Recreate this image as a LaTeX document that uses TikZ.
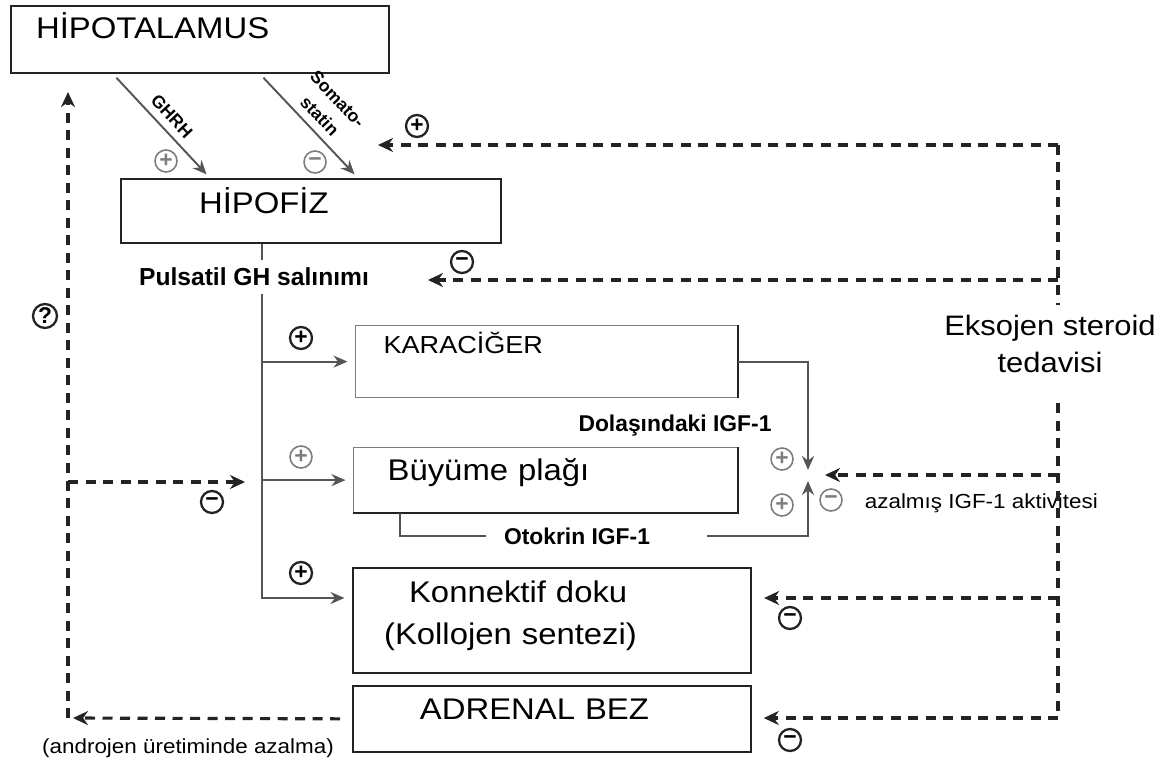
\documentclass[tikz,border=0pt]{standalone}
\usepackage{fontspec}
\setmainfont{Liberation Sans}[FakeStretch=1.1]
\newfontfamily\boldsf{Liberation Sans}
\usepackage{tikz}
\usetikzlibrary{arrows.meta, positioning}
\definecolor{ink}{RGB}{35,35,35}
\definecolor{wire}{RGB}{85,85,85}
\definecolor{soft}{RGB}{125,125,125}

\begin{document}
\begin{tikzpicture}[x=0.2mm, y=-0.2mm,
  box/.style={draw=ink, line width=1pt, inner sep=0pt, anchor=north west, align=left},
  bld/.style={font=\boldsf\bfseries\fontsize{13}{15}\selectfont, inner sep=0.5mm},
  lbl/.style={font=\boldsf\bfseries\fontsize{10}{14}\selectfont, inner sep=0.5mm},
  sm/.style={font=\fontsize{11.6}{14}\selectfont, inner sep=0.5mm},
  sg/.style={circle, draw=ink, line width=1.3pt, minimum size=4.4mm, inner sep=0pt,
             font=\boldsf\bfseries\fontsize{13}{13}\selectfont},
  sgg/.style={sg, draw=soft, text=soft, line width=0.9pt},
  gl/.style={draw=wire, line width=1.1pt, -{Stealth[length=2.8mm, width=2.4mm]}},
  dsh/.style={draw=ink, line width=1.8pt, dash pattern=on 2mm off 1.5mm,
              -{Stealth[length=3mm, width=2.8mm]}},
  dln/.style={draw=ink, line width=1.8pt, dash pattern=on 2mm off 1.5mm}]
  \useasboundingbox (0,0) rectangle (1164,765);

  % boxes
  \node[box, line width=1.2pt, text width=75.6mm, text height=6.4mm, text depth=7mm,
        font=\fontsize{17}{20}\selectfont] (hipo) at (10,5) {\hspace*{5mm}HİPOTALAMUS};
  \node[box, line width=1.2pt, text width=76mm, text height=6.8mm, text depth=6mm,
        font=\fontsize{17}{20}\selectfont] (pit) at (120,178) {\hspace*{15.6mm}HİPOFİZ};
  \node[box, draw=soft, line width=0.7pt, text width=76.4mm, text height=5.6mm, text depth=8.8mm,
        font=\fontsize{14}{17}\selectfont] (liver) at (355,325) {\hspace*{5.6mm}KARACİĞER};
  \draw[ink, line width=1.4pt] (liver.north east) -- (liver.south east);
  \node[box, draw=soft, line width=0.7pt, text width=76.8mm, text height=6.6mm, text depth=6.4mm,
        font=\fontsize{17}{20}\selectfont] (plate) at (353,447) {\hspace*{6.8mm}Büyüme plağı};
  \draw[ink, line width=1.4pt] (plate.south west) -- (plate.south east) -- (plate.north east);
  \node[box, line width=1.2pt, text width=79.6mm, text height=6.8mm, text depth=14.2mm,
        font=\fontsize{17}{23.9}\selectfont] (conn) at (352,567)
        {\hspace*{11.2mm}Konnektif doku\\\hspace*{6.2mm}(Kollojen sentezi)};
  \node[box, text width=79.6mm, text height=6.8mm, text depth=6.4mm,
        font=\fontsize{17}{20}\selectfont] (adr) at (352,685) {\hspace*{13.4mm}ADRENAL BEZ};
  \node[font=\fontsize{16}{21}\selectfont, align=center, inner sep=2mm] (ster) at (1050,344)
        {Eksojen steroid\\tedavisi};

  % hypothalamus -> pituitary
  \draw[gl, shorten <=1mm, shorten >=1mm] ([xshift=20.6mm]hipo.south west)
        -- node[lbl, sloped, above=0.9mm] {GHRH} ([xshift=18mm]pit.north west);
  \draw[gl, shorten <=1mm, shorten >=1mm] ([xshift=50mm]hipo.south west)
        -- node[lbl, sloped, above=1mm, align=center] {Somato-\\statin} ([xshift=47.6mm]pit.north west);

  % GH trunk
  \coordinate (b3) at (262,598);
  \draw[gl, shorten >=1.5mm] (b3 |- pit.south) -- (b3) -- (b3 -| conn.west);
  \draw[gl, shorten >=1.5mm] (b3 |- liver.west) -- (liver.west);
  \draw[gl, shorten >=1.5mm] (b3 |- plate.west) -- (plate.west);
  \node[bld, font=\boldsf\bfseries\fontsize{14}{16}\selectfont, fill=white, inner sep=1.6mm]
        (gh) at (254,277) {Pulsatil GH salınımı};

  % IGF-1
  \coordinate (jn) at (808,475);
  \node[bld] (dol) at (675,426) {Dolaşındaki IGF-1};
  \node[bld, inner xsep=3.5mm] (oto) at (577,536) {Otokrin IGF-1};
  \draw[gl, shorten >=1mm] (liver.east) -| (jn);
  \draw[draw=wire, line width=1.1pt] ([xshift=9.4mm]plate.south west) |- (oto.west);
  \draw[gl, shorten <=7.8mm, shorten >=1.2mm] (oto.east) -| (jn);
  \node[sm, anchor=west] (azl) at (862,503) {azalmış IGF-1 aktivitesi};

  % steroid feedback
  \coordinate (r1) at (1058,145);
  \coordinate (r2) at (1058,280);
  \coordinate (r3) at (1058,475);
  \coordinate (r4) at (1058,598);
  \coordinate (r5) at (1058,718);
  \coordinate (sT) at (378,145);
  \coordinate (gT) at (428,280);
  \draw[dln] (r1) -- (r1 |- ster.north);
  \draw[dln, shorten <=4mm] (r1 |- ster.south) -- (r5);
  \draw[dsh] (r1) -- (sT);
  \draw[dsh] (r2) -- (gT);
  \draw[dsh, shorten >=3.4mm] (r3) -- (jn);
  \draw[dsh, shorten >=2.4mm] (r4) -- (r4 -| conn.east);
  \draw[dsh, shorten >=2.4mm] (r5) -- (r5 -| adr.east);

  % adrenal feedback
  \coordinate (l5) at (68,718);
  \coordinate (l3) at (68,482);
  \draw[dsh, shorten >=3.6mm] (l5) -- (l5 |- hipo.south);
  \draw[dsh, shorten <=2.4mm, shorten >=1mm] (adr.west) -- (l5);
  \draw[dsh, shorten >=3.4mm] (l3) -- (l3 -| b3);
  \node[sm] (andr) at (188,748) {(androjen üretiminde azalma)};

  % signs
  \node[sgg] (p1) at (166,161) {+};
  \node[sgg] (m1) at (315,162) {−};
  \node[sg] (p2) at (417,126) {+};
  \node[sg] (m2) at (462,262) {−};
  \node[sg, minimum size=4.8mm] (qm) at (45,316) {?};
  \node[sg] (p3) at (301,338) {+};
  \node[sgg] (p4) at (301,457) {+};
  \node[sg] (m3) at (212,502) {−};
  \node[sg] (p5) at (301,573) {+};
  \node[sgg] (p6) at (782,459) {+};
  \node[sgg] (p7) at (782,505) {+};
  \node[sgg] (m6) at (831,500) {−};
  \node[sg] (m4) at (790,618) {−};
  \node[sg] (m5) at (790,740) {−};
\end{tikzpicture}
\end{document}
